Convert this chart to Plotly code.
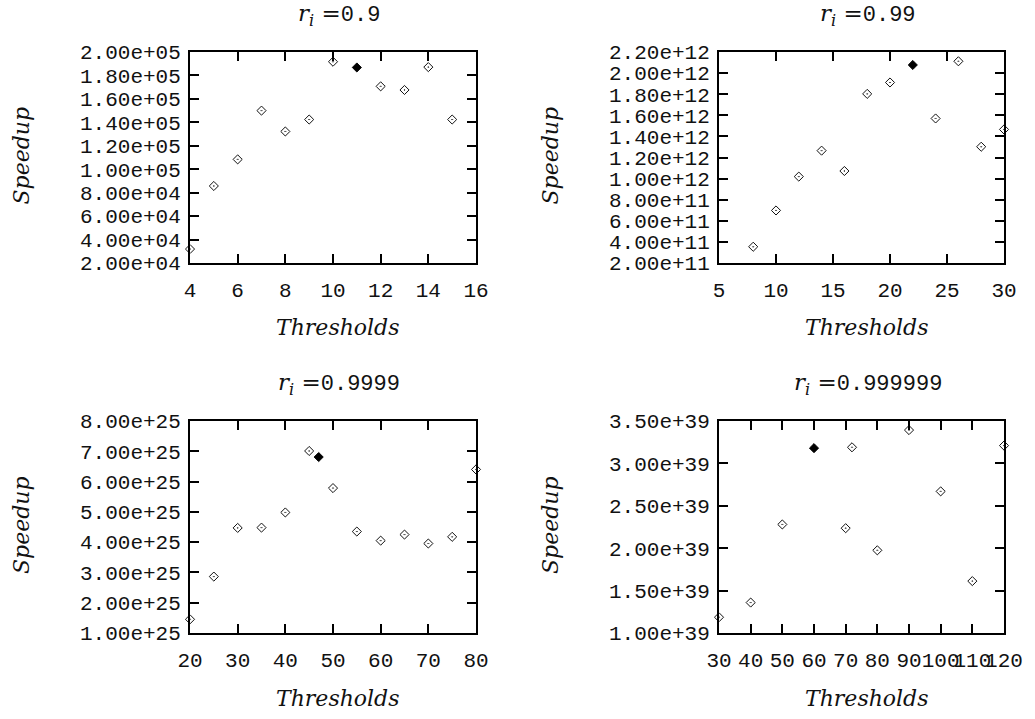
import plotly.graph_objects as go

W, H = 1035, 719

# ---------------- data ----------------
# Panel 1: r_i = 0.9
p1_x = [4, 5, 6, 7, 8, 9, 10, 12, 13, 14, 15]
p1_y = [3.19e4, 8.57e4, 1.084e5, 1.50e5, 1.322e5, 1.424e5, 1.917e5, 1.707e5, 1.676e5, 1.871e5, 1.424e5]
p1_best_x = [11]
p1_best_y = [1.868e5]

# Panel 2: r_i = 0.99
p2_x = [8, 10, 12, 14, 16, 18, 20, 24, 26, 28, 30]
p2_y = [3.54e11, 6.98e11, 1.019e12, 1.265e12, 1.072e12, 1.803e12, 1.911e12, 1.570e12, 2.112e12, 1.302e12, 1.466e12]
p2_best_x = [22]
p2_best_y = [2.077e12]

# Panel 3: r_i = 0.9999
p3_x = [20, 25, 30, 35, 40, 45, 50, 55, 60, 65, 70, 75, 80]
p3_y = [1.452e25, 2.863e25, 4.47e25, 4.48e25, 4.98e25, 7.01e25, 5.785e25, 4.35e25, 4.05e25, 4.25e25, 3.955e25, 4.175e25, 6.40e25]
p3_best_x = [47]
p3_best_y = [6.81e25]

# Panel 4: r_i = 0.999999
p4_x = [30, 40, 50, 70, 72, 80, 90, 100, 110, 120]
p4_y = [1.186e39, 1.359e39, 2.28e39, 2.236e39, 3.19e39, 1.975e39, 3.393e39, 2.67e39, 1.612e39, 3.21e39]
p4_best_x = [60]
p4_best_y = [3.18e39]

titles = ["0.9", "0.99", "0.9999", "0.999999"]

p1_xticks = [4, 6, 8, 10, 12, 14, 16]
p2_xticks = [5, 10, 15, 20, 25, 30]
p3_xticks = [20, 30, 40, 50, 60, 70, 80]
p4_xticks = [30, 40, 50, 60, 70, 80, 90, 100, 110, 120]

p1_yticks = [2e4, 4e4, 6e4, 8e4, 1e5, 1.2e5, 1.4e5, 1.6e5, 1.8e5, 2e5]
p2_yticks = [2e11, 4e11, 6e11, 8e11, 1e12, 1.2e12, 1.4e12, 1.6e12, 1.8e12, 2e12, 2.2e12]
p3_yticks = [1e25, 2e25, 3e25, 4e25, 5e25, 6e25, 7e25, 8e25]
p4_yticks = [1e39, 1.5e39, 2e39, 2.5e39, 3e39, 3.5e39]

# ---------------- layout geometry (pixels) ----------------
boxes = [
    (190, 476, 52, 263),
    (719, 1004, 52, 263),
    (190, 476, 421, 633),
    (719, 1004, 421, 633),
]

panels = [
    (p1_x, p1_y, p1_best_x, p1_best_y, p1_xticks, p1_yticks),
    (p2_x, p2_y, p2_best_x, p2_best_y, p2_xticks, p2_yticks),
    (p3_x, p3_y, p3_best_x, p3_best_y, p3_xticks, p3_yticks),
    (p4_x, p4_y, p4_best_x, p4_best_y, p4_xticks, p4_yticks),
]

MONO = "Liberation Mono"
SERIF = "DejaVu Serif"
INK = "#111111"

fig = go.Figure()
layout = dict(
    template="none",
    width=W, height=H,
    margin=dict(l=0, r=0, t=0, b=0, pad=0, autoexpand=False),
    paper_bgcolor="white", plot_bgcolor="white",
    showlegend=False,
    annotations=[],
)

for i, ((xs, ys, bx, by, xt, yt), (l, r, t, b)) in enumerate(zip(panels, boxes)):
    n = "" if i == 0 else str(i + 1)
    xa, ya = "x" + n, "y" + n
    fig.add_trace(go.Scatter(
        x=xs, y=ys, mode="markers", xaxis=xa, yaxis=ya, cliponaxis=False,
        marker=dict(symbol="diamond-open-dot", size=7, color=INK, line=dict(width=1, color=INK)),
    ))
    fig.add_trace(go.Scatter(
        x=bx, y=by, mode="markers", xaxis=xa, yaxis=ya, cliponaxis=False,
        marker=dict(symbol="diamond", size=7, color="black", line=dict(width=1, color="black")),
    ))
    common = dict(
        showline=True, linecolor="black", linewidth=2, mirror="ticks",
        ticks="inside", ticklen=9, tickwidth=1.5, tickcolor="black",
        showgrid=False, zeroline=False, automargin=False,
        tickfont=dict(family=MONO, size=21, color=INK),
    )
    layout["xaxis" + n] = dict(
        common, domain=[l / W, r / W], anchor=ya, tickangle=0,
        range=[xt[0], xt[-1]], tickmode="array", tickvals=xt,
        ticktext=[str(v) for v in xt], ticklabelstandoff=7,
    )
    layout["yaxis" + n] = dict(
        common, domain=[1 - b / H, 1 - t / H], anchor=xa, tickangle=0,
        range=[yt[0], yt[-1]], tickmode="array", tickvals=yt,
        ticktext=[f"{v:.2e}" for v in yt], ticklabelstandoff=3,
    )
    cx = (l + r) / 2
    cy = (t + b) / 2
    # title
    layout["annotations"].append(dict(
        xref="paper", yref="paper", x=(cx + 6) / W, y=1 - (t - 37) / H,
        xanchor="center", yanchor="middle", showarrow=False,
        text=f"<i>r</i><sub><i>i</i></sub> =<span style='font-family:{MONO};font-size:22px'>{titles[i]}</span>",
        font=dict(family=SERIF, size=23, color=INK),
    ))
    # x label
    layout["annotations"].append(dict(
        xref="paper", yref="paper", x=(cx + 5) / W, y=1 - (b + 65) / H,
        xanchor="center", yanchor="middle", showarrow=False,
        text="<i>Thresholds</i>", font=dict(family=SERIF, size=22, color=INK),
    ))
    # y label
    layout["annotations"].append(dict(
        xref="paper", yref="paper", x=(l - 169) / W, y=1 - (cy - 2) / H,
        xanchor="center", yanchor="middle", showarrow=False, textangle=-90,
        text="<i>Speedup</i>", font=dict(family=SERIF, size=22, color=INK),
    ))

fig.update_layout(**layout)
fig.write_html("out.html")
